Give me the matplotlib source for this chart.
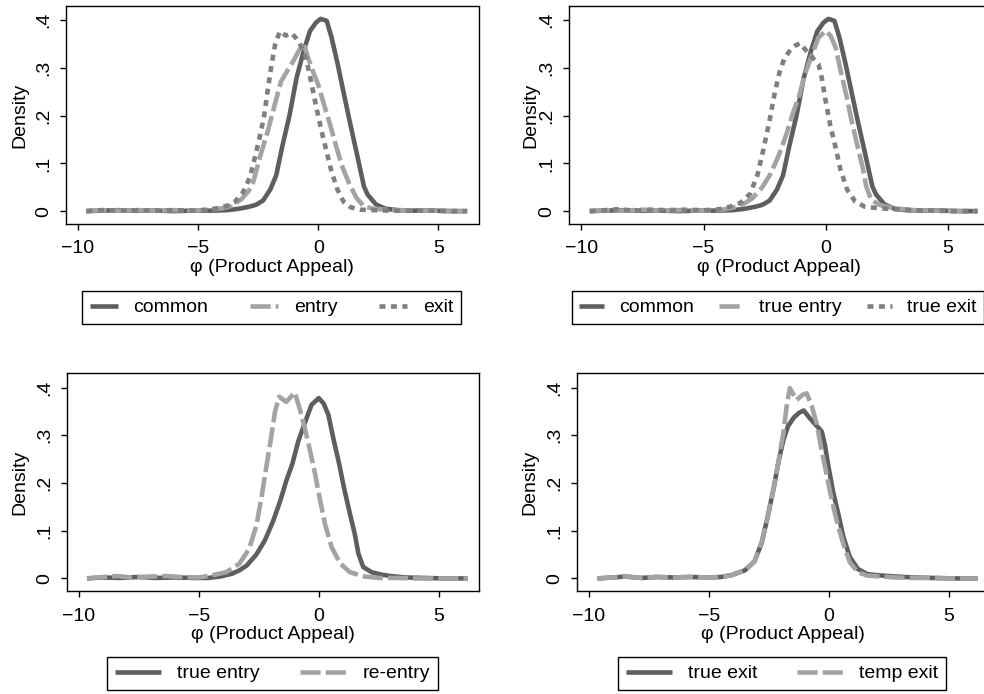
import matplotlib
matplotlib.use("Agg")
import matplotlib.pyplot as plt

plt.rcParams['font.family'] = ['Liberation Sans', 'DejaVu Sans']
plt.rcParams['font.size'] = 14

# density curves
common_x = [-9.65, -9.0, -8.3, -7.6, -6.8, -6.0, -5.2, -4.4, -3.8, -3.3, -2.9, -2.6, -2.3, -2.0,
            -1.75, -1.5, -1.2, -0.9, -0.6, -0.35, -0.1, 0.1, 0.35, 0.55, 0.8, 1.05, 1.3, 1.6,
            1.9, 2.05, 2.4, 2.8, 3.3, 4.0, 4.8, 5.5, 6.2]
common_y = [0.0, 0.001, 0.002, 0.001, 0.001, 0.0, 0.001, 0.001, 0.002, 0.005, 0.009, 0.013, 0.022,
            0.045, 0.075, 0.135, 0.2, 0.28, 0.337, 0.377, 0.395, 0.403, 0.399, 0.365, 0.31, 0.25,
            0.19, 0.122, 0.052, 0.035, 0.014, 0.005, 0.002, 0.001, 0.001, 0.0, 0.0]

entry_x = [-9.65, -9.0, -8.3, -7.5, -6.8, -6.0, -5.2, -4.5, -4.0, -3.6, -3.2, -2.9, -2.7, -2.4,
           -2.1, -1.8, -1.55, -1.3, -1.0, -0.8, -0.6, -0.4, -0.2, 0.0, 0.2, 0.5, 0.75, 1.0, 1.3,
           1.6, 1.9, 2.3, 2.8, 3.4, 4.2, 5.0, 5.6, 6.2]
entry_y = [0.0, 0.002, 0.001, 0.002, 0.001, 0.002, 0.001, 0.003, 0.006, 0.011, 0.025, 0.042, 0.062,
           0.118, 0.168, 0.225, 0.272, 0.293, 0.318, 0.337, 0.35, 0.318, 0.29, 0.265, 0.23, 0.18,
           0.135, 0.093, 0.056, 0.027, 0.01, 0.005, 0.003, 0.002, 0.001, 0.001, 0.0, 0.0]

exit_x = [-9.65, -9.0, -8.3, -7.5, -6.8, -6.0, -5.2, -4.6, -4.2, -3.8, -3.5, -3.15, -2.85, -2.65,
          -2.45, -2.25, -2.1, -1.95, -1.8, -1.6, -1.35, -1.1, -0.8, -0.5, -0.3, -0.1, 0.15, 0.35,
          0.55, 0.8, 1.05, 1.35, 1.75, 2.3, 3.0, 3.8, 4.6, 5.4, 6.2]
exit_y = [0.0, 0.002, 0.001, 0.002, 0.001, 0.002, 0.001, 0.003, 0.006, 0.011, 0.018, 0.038, 0.07,
          0.11, 0.152, 0.2, 0.255, 0.305, 0.348, 0.377, 0.368, 0.373, 0.355, 0.32, 0.272, 0.222,
          0.165, 0.124, 0.083, 0.045, 0.02, 0.008, 0.003, 0.002, 0.001, 0.001, 0.001, 0.0, 0.0]

true_entry_x = [-9.65, -9.0, -8.3, -7.5, -6.8, -6.0, -5.2, -4.6, -4.1, -3.6, -3.3, -3.0, -2.6, -2.25,
                -1.9, -1.6, -1.35, -1.1, -0.85, -0.55, -0.3, 0.0, 0.2, 0.4, 0.6, 0.85, 1.05, 1.3,
                1.5, 1.65, 1.85, 2.2, 2.6, 3.0, 3.6, 4.4, 5.2, 6.2]
true_entry_y = [0.0, 0.002, 0.001, 0.003, 0.001, 0.002, 0.001, 0.001, 0.004, 0.01, 0.017, 0.027,
                0.05, 0.079, 0.12, 0.163, 0.205, 0.24, 0.288, 0.33, 0.364, 0.378, 0.367, 0.343,
                0.295, 0.24, 0.19, 0.135, 0.093, 0.052, 0.024, 0.013, 0.008, 0.005, 0.002, 0.001,
                0.0, 0.0]

true_exit_x = [-9.65, -9.0, -8.5, -7.8, -7.2, -6.5, -5.8, -5.0, -4.5, -4.05, -3.5, -3.1, -2.8, -2.55,
               -2.3, -2.1, -1.9, -1.7, -1.45, -1.25, -1.05, -0.8, -0.55, -0.3, -0.17, -0.03, 0.18,
               0.4, 0.6, 0.87, 1.2, 1.6, 2.2, 2.8, 3.5, 4.3, 5.2, 6.2]
true_exit_y = [0.0, 0.002, 0.004, 0.001, 0.003, 0.002, 0.003, 0.002, 0.003, 0.007, 0.017, 0.036,
               0.075, 0.13, 0.19, 0.245, 0.29, 0.32, 0.338, 0.347, 0.352, 0.336, 0.322, 0.308,
               0.28, 0.237, 0.18, 0.133, 0.087, 0.045, 0.02, 0.009, 0.006, 0.004, 0.002, 0.001,
               0.0, 0.0]

reentry_x = [-9.65, -9.0, -8.4, -7.8, -7.0, -6.4, -5.7, -5.0, -4.5, -3.85, -3.3, -2.9, -2.6, -2.4,
             -2.2, -2.0, -1.82, -1.65, -1.35, -1.0, -0.8, -0.58, -0.36, -0.15, 0.06, 0.26, 0.54,
             0.9, 1.3, 1.9, 2.5, 3.2, 4.0, 4.8, 5.5, 6.2]
reentry_y = [0.0, 0.003, 0.005, 0.002, 0.004, 0.005, 0.003, 0.002, 0.006, 0.013, 0.031, 0.062,
             0.11, 0.165, 0.228, 0.29, 0.35, 0.381, 0.37, 0.39, 0.357, 0.315, 0.267, 0.218, 0.163,
             0.114, 0.065, 0.031, 0.013, 0.004, 0.001, 0.001, 0.0, 0.0, 0.0, 0.0]

temp_exit_x = [-9.65, -9.0, -8.5, -7.8, -7.2, -6.5, -5.8, -5.0, -4.5, -4.05, -3.5, -3.1, -2.8, -2.55,
               -2.3, -2.1, -1.9, -1.76, -1.63, -1.35, -1.1, -0.93, -0.72, -0.5, -0.3, -0.1, 0.1,
               0.32, 0.6, 0.87, 1.2, 1.6, 2.2, 2.8, 3.5, 4.3, 5.2, 6.2]
temp_exit_y = [0.0, 0.002, 0.004, 0.001, 0.003, 0.002, 0.003, 0.002, 0.003, 0.007, 0.017, 0.036,
               0.077, 0.13, 0.19, 0.246, 0.305, 0.362, 0.399, 0.374, 0.385, 0.388, 0.362, 0.322,
               0.267, 0.218, 0.169, 0.121, 0.072, 0.034, 0.013, 0.006, 0.004, 0.002, 0.001, 0.001,
               0.0, 0.0]

xticks = [-10, -5, 0, 5]
yticks = [0, 0.1, 0.2, 0.3, 0.4]
ytick_labels = ['0', '.1', '.2', '.3', '.4']
xlabel = 'φ (Product Appeal)'

dark = '#5e5e5e'
light = '#a3a3a3'
mid = '#7f7f7f'
lw = 3.3
solid = dict(color=dark, lw=lw, solid_capstyle='butt')
dashed = dict(color=light, lw=lw, dashes=(4.4, 1.1))
dotted = dict(color=mid, lw=lw, dashes=(1.3, 1.2))

W, H = 984, 694
fig = plt.figure(figsize=(9.84, 6.94), dpi=100)


def make_ax(left, top, width, height, ylab_px):
    ax = fig.add_axes([left / W, 1 - (top + height) / H, width / W, height / H])
    ax.set_xlim(-10.5, 6.67)
    ax.set_ylim(-0.027, 0.43)
    ax.set_xticks(xticks)
    ax.set_yticks(yticks)
    ax.set_yticklabels(ytick_labels)
    ax.tick_params(axis='both', direction='out', length=4.3, width=1.0, labelsize=14)
    ax.tick_params(axis='x', pad=7.5)
    ax.tick_params(axis='y', pad=5.5)
    for lab in ax.get_yticklabels():
        lab.set_rotation(90)
        lab.set_va('center')
    for sp in ax.spines.values():
        sp.set_linewidth(1.0)
        sp.set_color('black')
    ax.set_xlabel(xlabel, fontsize=14, va='center')
    ax.xaxis.set_label_coords(0.5, -43 / height)
    ax.set_ylabel('Density', fontsize=14, va='center')
    ax.yaxis.set_label_coords(ylab_px / width, 0.5)
    return ax


def add_legend(ax, cx, cy, handlelength, columnspacing):
    leg = ax.legend(loc='center', bbox_to_anchor=(cx / W, 1 - cy / H),
                    bbox_transform=fig.transFigure, ncol=3, frameon=True,
                    fancybox=False, edgecolor='black', framealpha=1, fontsize=14,
                    handlelength=handlelength, handletextpad=0.8,
                    columnspacing=columnspacing, borderpad=0.4)
    leg.get_frame().set_linewidth(1.0)
    return leg


# top left
ax1 = make_ax(66, 6, 412.5, 218, -46)
ax1.plot(common_x, common_y, label='common', **solid)
ax1.plot(entry_x, entry_y, label='entry', **dashed)
ax1.plot(exit_x, exit_y, label='exit', **dotted)
add_legend(ax1, 271.5, 307.5, 1.45, 2.15)

# top right
ax2 = make_ax(569, 6, 420, 218, -38)
ax2.plot(common_x, common_y, label='common', **solid)
ax2.plot(true_entry_x, true_entry_y, label='true entry', **dashed)
ax2.plot(true_exit_x, true_exit_y, label='true exit', **dotted)
add_legend(ax2, 778, 307.5, 1.25, 1.3)

# bottom left
ax3 = make_ax(66.5, 373.3, 412.5, 218, -46.5)
ax3.plot(true_entry_x, true_entry_y, label='true entry', **solid)
ax3.plot(reentry_x, reentry_y, label='re-entry', **dashed)
add_legend(ax3, 272.5, 673.5, 2.4, 2.1)

# bottom right
ax4 = make_ax(577, 373.3, 412, 218, -47)
ax4.plot(true_exit_x, true_exit_y, label='true exit', **solid)
ax4.plot(temp_exit_x, temp_exit_y, label='temp exit', **dashed)
add_legend(ax4, 782, 673.5, 2.4, 2.05)

fig.savefig('out.png', dpi=100)
